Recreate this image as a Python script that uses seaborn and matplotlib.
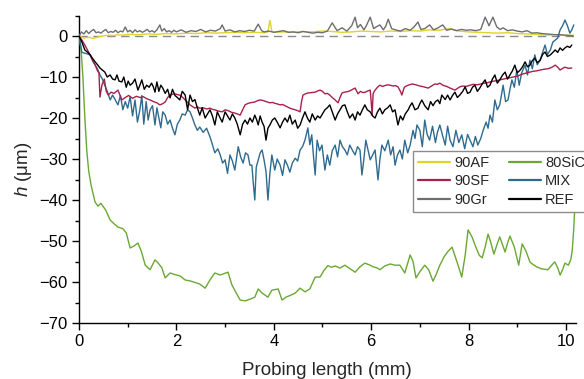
import numpy as np
import pandas as pd
import matplotlib
matplotlib.use("Agg")
import matplotlib.pyplot as plt
import seaborn as sns
from matplotlib.ticker import MultipleLocator

# ---------------- data ----------------
x_af = [0, 0.1, 0.2, 0.3, 0.4, 0.5, 0.6, 0.7, 0.8, 0.9,
        1.0, 1.2, 1.4, 1.6, 1.8, 2.0, 2.2, 2.4, 2.6, 2.8,
        3.0, 3.2, 3.4, 3.6, 3.8, 3.88, 3.92, 3.96, 4.0, 4.2,
        4.4, 4.6, 4.8, 5.0, 5.2, 5.4, 5.6, 5.8, 6.0, 6.2,
        6.4, 6.6, 6.8, 7.0, 7.2, 7.4, 7.6, 7.8, 8.0, 8.2,
        8.4, 8.6, 8.8, 9.0, 9.2, 9.4, 9.6, 9.8, 10.0, 10.15]
h_af = [0, -0.5, -0.3, -0.6, -0.2, 0, 0.2, 0.1, 0.3, 0.2,
        0.4, 0.3, 0.5, 0.4, 0.6, 0.5, 0.7, 0.6, 0.8, 0.7,
        0.8, 0.9, 0.8, 0.9, 0.8, 1.0, 3.8, 1.2, 0.9, 1.0,
        0.9, 1.1, 1.0, 1.2, 1.1, 0.9, 1.0, 1.2, 1.1, 1.0,
        1.2, 1.1, 1.3, 1.2, 1.5, 1.4, 1.8, 1.2, 1.0, 0.9,
        0.8, 0.7, 0.8, 0.6, 0.5, 0.4, 0.2, 0.3, 0.1, 0.2]

x_gr = [0, 0.05, 0.1, 0.15, 0.2, 0.25, 0.3, 0.35, 0.4, 0.45,
        0.5, 0.55, 0.6, 0.65, 0.7, 0.75, 0.8, 0.85, 0.9, 0.95,
        1.0, 1.05, 1.1, 1.15, 1.2, 1.25, 1.3, 1.35, 1.4, 1.45,
        1.5, 1.55, 1.6, 1.66, 1.7, 1.75, 1.8, 1.85, 1.9, 1.95,
        2.0, 2.1, 2.2, 2.3, 2.4, 2.5, 2.6, 2.7, 2.8, 2.9,
        2.94, 3.0, 3.1, 3.2, 3.3, 3.4, 3.5, 3.6, 3.68, 3.75,
        3.8, 3.9, 4.0, 4.1, 4.2, 4.3, 4.4, 4.5, 4.6, 4.7,
        4.8, 4.9, 5.0, 5.1, 5.2, 5.3, 5.4, 5.5, 5.6, 5.67,
        5.72, 5.78, 5.85, 5.9, 5.98, 6.05, 6.1, 6.18, 6.25, 6.3,
        6.35, 6.42, 6.5, 6.6, 6.7, 6.8, 6.88, 6.96, 7.02, 7.1,
        7.2, 7.28, 7.36, 7.47, 7.55, 7.65, 7.75, 7.85, 7.95, 8.05,
        8.15, 8.25, 8.34, 8.42, 8.5, 8.58, 8.65, 8.71, 8.8, 8.9,
        9.0, 9.1, 9.2, 9.3, 9.4, 9.5, 9.6, 9.7, 9.8, 9.9,
        10.0, 10.1, 10.15]
h_gr = [0, 1.0, 0.5, 1.3, 0.6, 1.2, 1.6, 0.8, 1.0, 0.7,
        1.2, 1.6, 0.8, 1.1, 0.9, 1.4, 0.8, 1.2, 1.0, 2.2,
        1.0, 1.4, 0.8, 1.5, 1.0, 1.3, 0.9, 1.2, 1.6, 1.0,
        1.3, 0.9, 1.5, 2.7, 1.2, 1.8, 1.0, 1.3, 0.9, 1.4,
        1.0, 1.5, 0.9, 1.3, 1.1, 1.6, 1.0, 1.4, 1.2, 1.8,
        2.7, 1.2, 1.5, 1.0, 1.3, 1.1, 1.4, 1.2, 2.9, 1.3,
        1.0, 1.2, 0.9, 1.1, 1.3, 0.9, 1.0, 0.8, 1.1, 0.9,
        0.7, 0.9, 0.8, 1.2, 3.2, 1.3, 2.0, 1.2, 2.5, 4.6,
        2.0, 2.8, 1.5, 2.5, 4.6, 1.8, 2.2, 2.7, 1.5, 2.4,
        4.1, 1.8, 1.5, 1.2, 1.8, 1.4, 2.2, 3.4, 1.6, 1.8,
        2.7, 1.5, 1.9, 2.7, 1.4, 1.7, 1.3, 1.6, 1.4, 1.5,
        1.3, 1.6, 4.6, 2.5, 4.6, 2.2, 1.6, 2.0, 1.3, 1.5,
        1.2, 1.0, 1.3, 0.7, 0.8, 0.6, 0.5, 0.4, 0.3, 0.3,
        0.2, 0.1, 0.0]

x_sic = [0, 0.04, 0.08, 0.12, 0.16, 0.2, 0.25, 0.33, 0.39, 0.45,
         0.55, 0.64, 0.72, 0.8, 0.9, 0.97, 1.05, 1.13, 1.21, 1.28,
         1.36, 1.46, 1.56, 1.62, 1.70, 1.77, 1.87, 1.97, 2.07, 2.18,
         2.3, 2.48, 2.59, 2.69, 2.79, 2.9, 3.06, 3.14, 3.22, 3.31,
         3.41, 3.51, 3.61, 3.68, 3.76, 3.88, 3.96, 4.09, 4.17, 4.25,
         4.35, 4.44, 4.54, 4.64, 4.74, 4.85, 4.95, 5.03, 5.11, 5.18,
         5.26, 5.36, 5.46, 5.57, 5.67, 5.77, 5.87, 5.96, 6.04, 6.11,
         6.18, 6.28, 6.39, 6.49, 6.59, 6.69, 6.8, 6.86, 6.92, 7.0,
         7.1, 7.18, 7.27, 7.34, 7.41, 7.5, 7.58, 7.66, 7.76, 7.86,
         7.93, 7.99, 8.07, 8.15, 8.22, 8.28, 8.34, 8.4, 8.46, 8.52,
         8.58, 8.64, 8.7, 8.75, 8.8, 8.85, 8.94, 9.03, 9.1, 9.18,
         9.26, 9.33, 9.4, 9.5, 9.63, 9.7, 9.77, 9.83, 9.88, 9.93,
         9.98, 10.05, 10.1, 10.13, 10.16, 10.18]
h_sic = [0, -3, -10, -20, -28, -33, -36.5, -40.5, -41.5, -40.8,
         -42.5, -44.9, -45.8, -46.6, -47, -48, -51.7, -51.2, -50.5, -52.5,
         -55.9, -57, -54.6, -55.3, -56.5, -59, -57.8, -58.2, -58.5, -59.5,
         -59.8, -60.5, -61.5, -59.5, -57.8, -58.3, -57.6, -60.7, -62.5, -64.4,
         -64.6, -64.2, -63.7, -61.7, -62.7, -63.7, -62, -61.7, -64.4, -63.7,
         -63.2, -62.7, -61.5, -62.4, -61.7, -58.8, -58.8, -57.2, -56, -56.4,
         -56.1, -56.6, -55.9, -56.8, -57.6, -56.3, -55.4, -55.8, -56.3, -56.5,
         -57, -56.1, -55.6, -55.9, -55.9, -57.8, -53.4, -55, -59, -57.5,
         -55.9, -57, -59.8, -58, -55.9, -53.8, -52.5, -51.5, -55, -58.8,
         -53.5, -47.3, -49, -51.5, -53.5, -54.1, -51.5, -48.3, -50.5, -53.2,
         -51, -49, -51, -52.7, -50.5, -48.8, -51.5, -55.9, -50.7, -52.5,
         -55.1, -55.8, -56.3, -56.8, -57, -56, -55.1, -56.5, -58.3, -57,
         -55.4, -55.9, -54.5, -52.2, -47, -42]

x_mix = [0, 0.06, 0.15, 0.23, 0.3, 0.38, 0.43, 0.48, 0.53, 0.58,
         0.64, 0.69, 0.74, 0.8, 0.85, 0.9, 0.95, 1.0, 1.05, 1.1,
         1.15, 1.2, 1.25, 1.29, 1.33, 1.38, 1.42, 1.46, 1.51, 1.56,
         1.6, 1.64, 1.68, 1.72, 1.77, 1.82, 1.87, 1.92, 1.97, 2.02,
         2.07, 2.12, 2.18, 2.23, 2.28, 2.33, 2.38, 2.43, 2.48, 2.55,
         2.62, 2.69, 2.74, 2.79, 2.85, 2.9, 2.95, 3.0, 3.05, 3.1,
         3.15, 3.2, 3.27, 3.32, 3.37, 3.42, 3.47, 3.51, 3.55, 3.58,
         3.61, 3.64, 3.68, 3.72, 3.76, 3.8, 3.84, 3.88, 3.92, 3.96,
         4.02, 4.07, 4.13, 4.18, 4.23, 4.28, 4.33, 4.38, 4.44, 4.49,
         4.54, 4.59, 4.64, 4.7, 4.74, 4.78, 4.82, 4.85, 4.89, 4.94,
         4.99, 5.05, 5.1, 5.15, 5.2, 5.26, 5.31, 5.36, 5.41, 5.46,
         5.51, 5.56, 5.62, 5.67, 5.72, 5.77, 5.81, 5.85, 5.89, 5.94,
         5.98, 6.03, 6.08, 6.14, 6.18, 6.22, 6.28, 6.35, 6.4, 6.45,
         6.49, 6.54, 6.59, 6.64, 6.69, 6.75, 6.8, 6.86, 6.9, 6.94,
         7.0, 7.05, 7.1, 7.15, 7.2, 7.26, 7.32, 7.36, 7.41, 7.46,
         7.52, 7.57, 7.62, 7.68, 7.74, 7.8, 7.86, 7.92, 7.98, 8.03,
         8.09, 8.14, 8.19, 8.25, 8.3, 8.36, 8.4, 8.44, 8.49, 8.54,
         8.59, 8.64, 8.68, 8.71, 8.76, 8.81, 8.85, 8.89, 8.94, 8.99,
         9.04, 9.09, 9.16, 9.21, 9.26, 9.31, 9.36, 9.41, 9.47, 9.52,
         9.57, 9.62, 9.68, 9.73, 9.78, 9.83, 9.88, 9.93, 9.98, 10.03,
         10.08, 10.12, 10.16]
h_mix = [0, -4, -4.3, -4.6, -6.5, -8, -9.5, -10.5, -12, -13.5,
         -15.6, -14.4, -15.5, -16.8, -14.5, -18, -16, -17.6, -14.8, -19.5,
         -15.6, -21, -18, -14.5, -21.5, -16, -20.5, -18, -17, -21.7,
         -17.5, -20, -22.4, -18.5, -19.3, -21.5, -20.5, -22.5, -24.1, -21.5,
         -20.5, -19, -19.3, -18, -18.5, -20, -21.7, -23, -22.2, -23.5,
         -22.5, -24.6, -26.5, -28.5, -27.5, -29, -31, -30.2, -33.5, -29,
         -30.5, -32.7, -27, -29.5, -31, -28.5, -29, -31.5, -31.5, -36,
         -40, -32, -30.2, -28.5, -27.8, -30.2, -33, -40, -33.5, -29,
         -32.7, -30, -31.5, -34, -30.2, -31.5, -33.2, -31, -29.8, -30.5,
         -27.8, -27, -25.4, -22.4, -26.5, -24.1, -30, -33.9, -25.4, -28,
         -26.6, -32.7, -29, -31.5, -28, -26.6, -29.5, -25.4, -27, -27.8,
         -29, -26.6, -28, -29, -27, -27.8, -33.9, -30, -25.4, -28,
         -30.2, -29, -27.8, -35.1, -30, -26.6, -28, -25.4, -29, -27,
         -31.5, -29, -27.8, -30, -25.4, -28.5, -26.6, -23, -25, -21.7,
         -23, -27, -20.5, -24, -25.4, -22, -26, -23.5, -21.7, -24,
         -26.6, -22, -25.4, -27, -23, -26, -24.1, -27.5, -24, -25.4,
         -27, -24.5, -26.6, -25, -23, -21, -22.5, -19.3, -21, -15.6,
         -18, -16.8, -14, -12, -16, -15.6, -13, -10.7, -12.5, -8.3,
         -12, -9, -7.1, -9.5, -5.9, -8, -4.6, -7, -5.9, -4,
         -2.2, -4.5, -3.4, -1.5, -1, -0.5, 1.5, 2.5, 3.9, 2.5,
         0.7, 1.5, 2.7]

x_sf = [0, 0.06, 0.12, 0.2, 0.28, 0.33, 0.38, 0.41, 0.43, 0.47,
        0.52, 0.56, 0.6, 0.66, 0.72, 0.8, 0.88, 0.95, 1.02, 1.1,
        1.18, 1.25, 1.32, 1.39, 1.46, 1.53, 1.6, 1.66, 1.72, 1.77,
        1.82, 1.87, 1.92, 1.97, 2.02, 2.07, 2.13, 2.18, 2.23, 2.28,
        2.33, 2.38, 2.43, 2.48, 2.55, 2.62, 2.69, 2.74, 2.79, 2.86,
        2.94, 3.0, 3.06, 3.13, 3.2, 3.25, 3.31, 3.36, 3.41, 3.46,
        3.51, 3.56, 3.61, 3.66, 3.72, 3.77, 3.82, 3.87, 3.92, 3.97,
        4.02, 4.08, 4.13, 4.18, 4.23, 4.28, 4.33, 4.38, 4.44, 4.49,
        4.54, 4.57, 4.6, 4.65, 4.7, 4.77, 4.85, 4.9, 4.95, 5.0,
        5.05, 5.1, 5.15, 5.2, 5.26, 5.32, 5.36, 5.4, 5.45, 5.5,
        5.56, 5.62, 5.67, 5.73, 5.78, 5.83, 5.88, 5.93, 5.98, 6.0,
        6.02, 6.04, 6.08, 6.13, 6.18, 6.23, 6.28, 6.34, 6.39, 6.45,
        6.5, 6.55, 6.6, 6.63, 6.68, 6.72, 6.76, 6.84, 6.92, 7.0,
        7.08, 7.17, 7.24, 7.31, 7.36, 7.41, 7.47, 7.55, 7.62, 7.68,
        7.72, 7.77, 7.82, 7.88, 7.95, 8.03, 8.1, 8.18, 8.25, 8.33,
        8.39, 8.44, 8.52, 8.58, 8.64, 8.72, 8.8, 8.85, 8.92, 9.0,
        9.06, 9.13, 9.2, 9.26, 9.33, 9.4, 9.47, 9.55, 9.62, 9.68,
        9.73, 9.78, 9.83, 9.88, 9.93, 9.98, 10.05, 10.12]
h_sf = [0, -1, -2.2, -4, -6, -7, -8.5, -9, -14.9, -12,
        -10.5, -13.5, -14.4, -13.7, -14, -13.2, -15.6, -15, -14.5, -15.2,
        -14.7, -15, -14.8, -15.3, -15.6, -16, -16.3, -16.8, -16.5, -16.1,
        -15, -14.4, -14.2, -14.1, -14.3, -14.4, -15, -15.6, -16.2, -16.8,
        -17.2, -17.6, -17.3, -17.6, -17.5, -17.8, -17.6, -17.9, -18, -18.3,
        -18.5, -18, -18.2, -18.6, -18.8, -19, -19.3, -18, -16.8, -16.5,
        -16.3, -16.2, -16.1, -15.8, -15.6, -15.7, -15.9, -16.1, -16.3, -16.2,
        -16.4, -16.6, -16.8, -16.7, -17, -17.3, -17.6, -17.8, -18, -18.2,
        -18.5, -16, -14.4, -14.1, -13.9, -13.8, -13.7, -13.4, -13.2, -13.5,
        -14.1, -14, -14.4, -15, -15.6, -16.3, -15, -13.9, -13.7, -13.6,
        -13.4, -13, -12.7, -14.1, -13.5, -13.8, -13.7, -13.4, -13.2, -16,
        -19.3, -14, -13.2, -12.5, -12, -12.3, -12.1, -11.9, -12, -12.2,
        -12.1, -12.4, -13.5, -14.4, -12.5, -12.2, -12, -11.7, -11.9, -12.2,
        -12.4, -12.7, -12.2, -11.7, -11.8, -11.5, -12, -12.3, -12.7, -13,
        -13.2, -12.8, -12.4, -12.2, -12.3, -12, -11.8, -11.9, -11.7, -11.5,
        -11.4, -11.2, -11, -10.9, -10.7, -10.5, -10.3, -10.2, -10, -9.8,
        -9.5, -9.2, -9, -8.8, -8.6, -8.5, -8.3, -8.1, -8, -7.8,
        -7.5, -7.1, -7.6, -8.3, -7.9, -7.6, -7.9, -7.8]

x_ref = [0, 0.06, 0.12, 0.18, 0.23, 0.28, 0.33, 0.38, 0.43, 0.48,
         0.53, 0.58, 0.64, 0.69, 0.74, 0.78, 0.82, 0.88, 0.92, 0.97,
         1.01, 1.05, 1.1, 1.15, 1.21, 1.25, 1.29, 1.34, 1.39, 1.44,
         1.49, 1.53, 1.56, 1.6, 1.64, 1.68, 1.72, 1.77, 1.82, 1.87,
         1.92, 1.97, 2.02, 2.07, 2.12, 2.18, 2.23, 2.28, 2.33, 2.38,
         2.43, 2.48, 2.53, 2.59, 2.64, 2.69, 2.74, 2.79, 2.84, 2.89,
         2.94, 3.0, 3.05, 3.1, 3.15, 3.2, 3.25, 3.31, 3.36, 3.41,
         3.46, 3.51, 3.56, 3.61, 3.65, 3.68, 3.72, 3.76, 3.8, 3.84,
         3.88, 3.92, 3.97, 4.02, 4.07, 4.13, 4.18, 4.23, 4.28, 4.33,
         4.38, 4.44, 4.49, 4.54, 4.59, 4.64, 4.69, 4.74, 4.79, 4.85,
         4.9, 4.95, 5.0, 5.05, 5.1, 5.15, 5.2, 5.26, 5.31, 5.36,
         5.41, 5.46, 5.51, 5.56, 5.62, 5.67, 5.72, 5.77, 5.82, 5.87,
         5.92, 5.98, 6.03, 6.08, 6.13, 6.18, 6.23, 6.28, 6.34, 6.39,
         6.44, 6.49, 6.55, 6.6, 6.65, 6.7, 6.76, 6.8, 6.84, 6.9,
         6.96, 7.0, 7.04, 7.1, 7.17, 7.22, 7.27, 7.32, 7.37, 7.41,
         7.45, 7.52, 7.57, 7.62, 7.67, 7.72, 7.77, 7.82, 7.88, 7.93,
         7.98, 8.03, 8.08, 8.13, 8.18, 8.23, 8.29, 8.34, 8.39, 8.44,
         8.49, 8.54, 8.59, 8.64, 8.7, 8.75, 8.8, 8.85, 8.9, 8.95,
         9.0, 9.06, 9.11, 9.16, 9.21, 9.26, 9.31, 9.36, 9.41, 9.47,
         9.52, 9.57, 9.62, 9.68, 9.73, 9.78, 9.83, 9.88, 9.93, 9.98,
         10.03, 10.08, 10.12]
h_ref = [0, -1.5, -3.4, -4, -4.6, -5.5, -6.3, -7, -7.8, -8.3,
         -8.8, -10, -9.5, -10.5, -10.7, -9.5, -11, -11.2, -10, -12.5,
         -11, -12, -11.5, -10.5, -13.2, -12, -10.7, -13, -12, -12.5,
         -11.5, -12.5, -13.7, -11.2, -13.5, -12, -12.7, -14, -13, -15.1,
         -13, -14.5, -15, -15.6, -13.5, -14.4, -18, -14.4, -16, -15.5,
         -17.5, -19.3, -17.5, -20, -19, -18, -19.5, -21.7, -18.5, -19.8,
         -21, -18.5, -19.5, -20.5, -19, -20, -21.5, -24.1, -21.5, -20.5,
         -21.5, -20, -21, -19.3, -20.5, -21.7, -19.5, -21, -22, -25.4,
         -22.5, -21.7, -20.5, -20, -21, -22.4, -21, -20, -21, -19.3,
         -21.5, -20.5, -22.5, -21.7, -20, -18.5, -20, -21, -19, -20.5,
         -19.5, -20, -19, -18, -17.5, -16.8, -18.5, -20.5, -19, -18,
         -17, -16.8, -18.5, -20, -19, -20.5, -18.5, -19.3, -18, -16.8,
         -18, -18.5, -19.5, -20, -18.5, -17.6, -19, -18, -17.5, -16.8,
         -18.5, -18, -21.7, -19.5, -20.5, -19, -18, -17, -16.3, -18,
         -17.6, -16.5, -15.6, -17, -18, -16, -17, -16, -15.6, -16.5,
         -14.4, -15.5, -14.4, -15.6, -14.5, -13.7, -15, -14.4, -13.5, -12.4,
         -14, -13.7, -12.5, -12, -13.5, -12.7, -11.5, -10.7, -12.5, -12,
         -10.5, -9.5, -11.5, -10.7, -9.5, -8.8, -10.5, -9.5, -8.5, -7.1,
         -9, -8.3, -7.5, -6.3, -7.5, -7.1, -6, -5.4, -6.5, -5.9,
         -4.5, -3.9, -5, -4.6, -4, -3.4, -4, -2.9, -3.5, -2.9,
         -2.5, -2.8, -2.2]

labels = ["90AF", "90SF", "90Gr", "80SiC", "MIX", "REF"]
x_ticks = [0, 2, 4, 6, 8, 10]
y_ticks = [-70, -60, -50, -40, -30, -20, -10, 0]

# ---------------- style ----------------
sns.set_style("ticks")
plt.rcParams["font.family"] = ["Liberation Sans", "DejaVu Sans"]
plt.rcParams["mathtext.fontset"] = "custom"
plt.rcParams["mathtext.it"] = "Liberation Sans:italic"
plt.rcParams["mathtext.rm"] = "Liberation Sans"

colors = {"90AF": "#e2d22c", "90SF": "#a8214b", "90Gr": "#6e6e6e",
          "80SiC": "#6aa832", "MIX": "#2e6b8f", "REF": "#000000"}

fig = plt.figure(figsize=(5.84, 3.79), dpi=100)
ax = fig.add_axes([79 / 584, 1 - 323 / 379, (575.7 - 79) / 584, (323 - 15.5) / 379])

ax.axhline(0, color="#8a8a8a", lw=1.0, ls=(0, (6, 4)), zorder=1)

series = {
    "90AF": (x_af, h_af),
    "90Gr": (x_gr, h_gr),
    "80SiC": (x_sic, h_sic),
    "MIX": (x_mix, h_mix),
    "90SF": (x_sf, h_sf),
    "REF": (x_ref, h_ref),
}
for name, (xs, ys) in series.items():
    df = pd.DataFrame({"x": xs, "h": ys})
    sns.lineplot(data=df, x="x", y="h", ax=ax, color=colors[name], lw=1.0,
                 sort=False, estimator=None, label=name, legend=False, zorder=3)

ax.set_xlim(0, 10.2)
ax.set_ylim(-70, 5)
ax.set_xticks(x_ticks)
ax.set_yticks(y_ticks)
ax.xaxis.set_minor_locator(MultipleLocator(1))
ax.yaxis.set_minor_locator(MultipleLocator(5))
ax.tick_params(which="major", direction="out", length=5, width=1.0,
               labelsize=12, colors="black", pad=3)
ax.tick_params(which="minor", direction="out", length=3, width=1.0, colors="black")
for s in ["top", "right"]:
    ax.spines[s].set_visible(False)
for s in ["left", "bottom"]:
    ax.spines[s].set_linewidth(1.0)
    ax.spines[s].set_color("black")

ax.set_xlabel("Probing length (mm)", fontsize=13.5, labelpad=9)
ax.set_ylabel("$h$ (μm)", fontsize=13.5, labelpad=4)

handles_map = {l.get_label(): l for l in ax.get_lines() if l.get_label() in labels}
handles = [handles_map[n] for n in labels]
leg = ax.legend(handles, labels, ncol=2, loc="upper left",
                bbox_to_anchor=(413 / 584, 1 - 151 / 379), bbox_transform=fig.transFigure,
                borderaxespad=0, fontsize=10.5, frameon=True, fancybox=False,
                framealpha=1, edgecolor="#8c8c8c", handlelength=2.2,
                handletextpad=0.3, columnspacing=1.3, labelspacing=0.3,
                borderpad=0.35)
leg.get_frame().set_linewidth(1.0)
for lh in leg.get_lines():
    lh.set_linewidth(1.6)

fig.savefig("out.png", dpi=100)
